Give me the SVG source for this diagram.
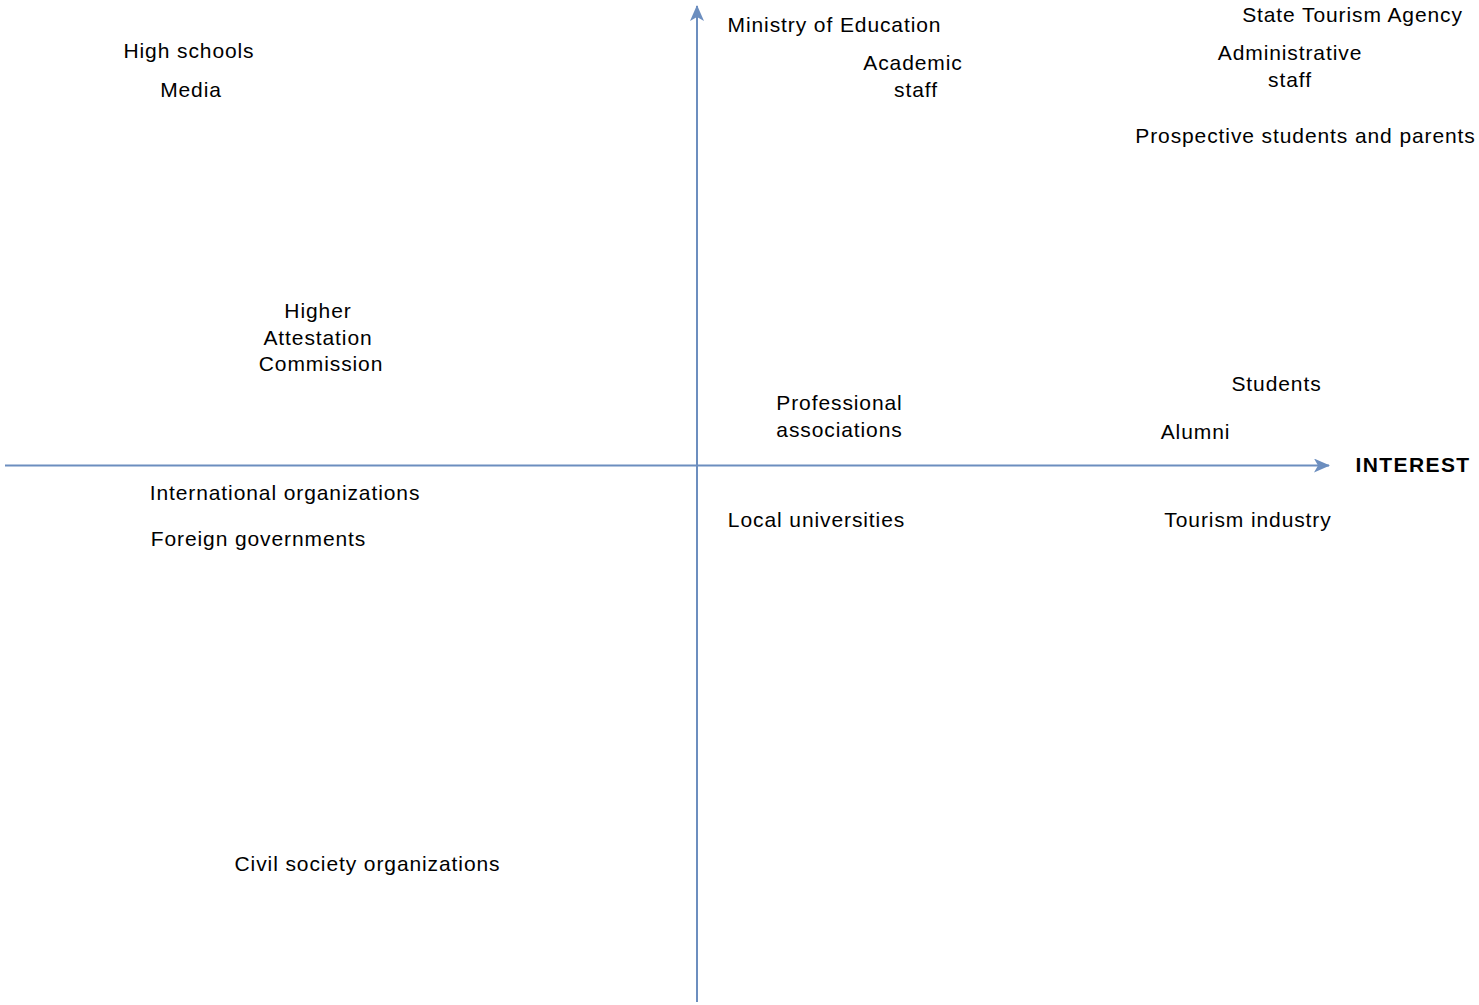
<svg xmlns="http://www.w3.org/2000/svg" width="1479" height="1005" viewBox="0 0 1479 1005">
<defs>
<style>
text{font-family:"Liberation Sans",Arial,Helvetica,sans-serif;font-size:21px;letter-spacing:0.9px;fill:#000;text-anchor:middle}
.b{font-weight:bold;letter-spacing:1.4px}
.ax{stroke:#6c8ebf;stroke-width:2;fill:none}
</style>
<marker id="ah" viewBox="0 0 16 14" refX="15" refY="7" markerWidth="16" markerHeight="14" markerUnits="userSpaceOnUse" orient="auto">
<path d="M0,0 L16,7 L0,14 L4,7 Z" fill="#6c8ebf"/>
</marker>
</defs>
<rect width="1479" height="1005" fill="#fff"/>
<g id="connectors">
<line class="ax" x1="5" y1="465.5" x2="1329" y2="465.5" marker-end="url(#ah)"/>
<line class="ax" x1="697" y1="1002" x2="697" y2="6" marker-end="url(#ah)"/>
</g>
<g id="n-interest"><text class="b" x="1413" y="472">INTEREST</text></g>
<g id="n-highschools"><text x="189" y="58">High schools</text></g>
<g id="n-media"><text x="191" y="97">Media</text></g>
<g id="n-ministry"><text x="834.5" y="32">Ministry of Education</text></g>
<g id="n-academic"><text x="913" y="70">Academic</text><text x="916" y="97">staff</text></g>
<g id="n-statetourism"><text x="1352.5" y="22">State Tourism Agency</text></g>
<g id="n-admin"><text x="1290" y="60">Administrative</text><text x="1290" y="87">staff</text></g>
<g id="n-prospective"><text x="1305.5" y="143">Prospective students and parents</text></g>
<g id="n-hac"><text x="318" y="318">Higher</text><text x="318" y="345">Attestation</text><text x="321" y="371">Commission</text></g>
<g id="n-students"><text x="1276.5" y="391">Students</text></g>
<g id="n-professional"><text x="839.5" y="410">Professional</text><text x="839.5" y="437">associations</text></g>
<g id="n-alumni"><text x="1195.5" y="439">Alumni</text></g>
<g id="n-international"><text x="285" y="500">International organizations</text></g>
<g id="n-foreign"><text x="258.5" y="546">Foreign governments</text></g>
<g id="n-localuni"><text x="816.5" y="527">Local universities</text></g>
<g id="n-tourismindustry"><text x="1248" y="527">Tourism industry</text></g>
<g id="n-civil"><text x="367.5" y="871">Civil society organizations</text></g>
</svg>
